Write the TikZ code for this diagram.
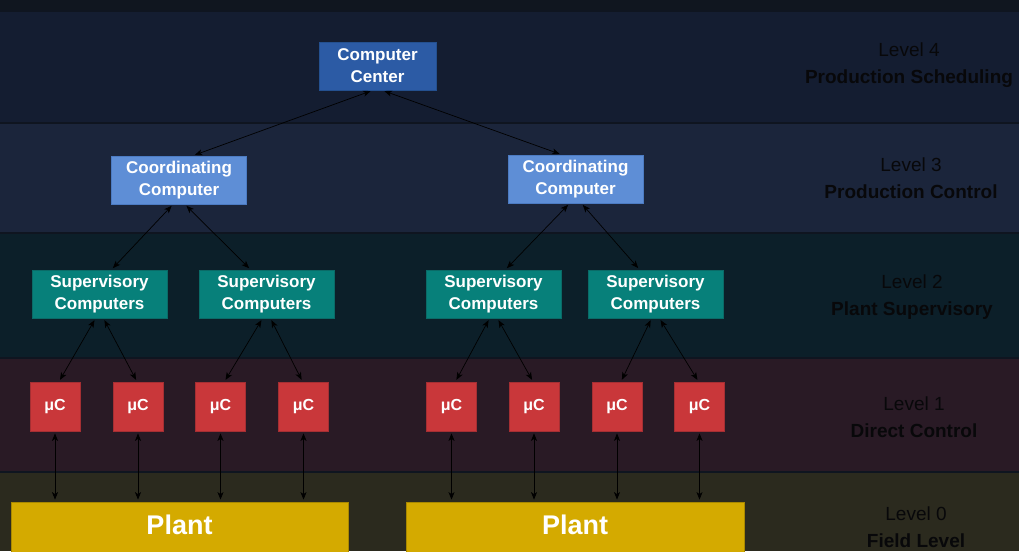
\documentclass[tikz,border=0pt]{standalone}
\usepackage{fontspec}
\setmainfont{Liberation Sans}
\usetikzlibrary{arrows.meta}

\definecolor{topstrip}{HTML}{10161F}
\definecolor{bandfour}{HTML}{141D31}
\definecolor{bandthree}{HTML}{1B253B}
\definecolor{bandtwo}{HTML}{0C1F29}
\definecolor{bandone}{HTML}{291A25}
\definecolor{bandzero}{HTML}{2B2A1E}
\definecolor{bandrule}{HTML}{0F1520}
\definecolor{ccfill}{HTML}{2C5BA5}
\definecolor{ccline}{HTML}{24508F}
\definecolor{coordfill}{HTML}{5E8ED6}
\definecolor{coordline}{HTML}{4C7BC2}
\definecolor{supfill}{HTML}{07807A}
\definecolor{supline}{HTML}{0A6B67}
\definecolor{mcfill}{HTML}{C9373A}
\definecolor{mcline}{HTML}{A52F33}
\definecolor{plantfill}{HTML}{D4AA00}
\definecolor{plantline}{HTML}{A98800}
\definecolor{leveltext}{HTML}{08080A}

\tikzset{
  box/.style={rectangle, line width=0.8pt, text=white, align=center,
    inner sep=0pt, font=\bfseries\fontsize{17}{22}\selectfont},
  ccbox/.style={box, fill=ccfill, draw=ccline, minimum width=117pt, minimum height=48pt},
  coordbox/.style={box, fill=coordfill, draw=coordline, minimum width=135pt, minimum height=48pt},
  supbox/.style={box, fill=supfill, draw=supline, minimum width=135pt, minimum height=48pt},
  mcbox/.style={box, fill=mcfill, draw=mcline, minimum width=50pt, minimum height=49pt,
    font=\bfseries\fontsize{16}{20}\selectfont},
  plantbox/.style={box, fill=plantfill, draw=plantline, minimum height=50pt,
    font=\bfseries\fontsize{27}{30}\selectfont},
  link/.style={black, line width=0.7pt,
    {Stealth[length=7.5pt,width=6pt,inset=2pt]}-{Stealth[length=7.5pt,width=6pt,inset=2pt]},
    shorten <=2pt, shorten >=2pt},
  lvl/.style={text=leveltext, align=center, inner sep=0pt,
    font=\fontsize{19}{27}\selectfont},
}

\begin{document}
\begin{tikzpicture}[x=1pt, y=-1pt]
  \useasboundingbox (0,0) rectangle (1019,551);

  % horizontal bands, one per level
  \fill[topstrip]   (0,0)   rectangle (1019,11);
  \fill[bandfour]   (0,11)  rectangle (1019,123);
  \fill[bandthree]  (0,123) rectangle (1019,233);
  \fill[bandtwo]    (0,233) rectangle (1019,358);
  \fill[bandone]    (0,358) rectangle (1019,472);
  \fill[bandzero]   (0,472) rectangle (1019,551);
  \foreach \yy in {11,123,233,358,472}
    \draw[bandrule, line width=1.5pt] (0,\yy) -- (1019,\yy);

  % level captions
  \node[lvl] (l4) at (909,65.5)  {Level 4\\\textbf{Production Scheduling}};
  \node[lvl] (l3) at (911,178.5) {Level 3\\\textbf{Production Control}};
  \node[lvl] (l2) at (912,297.5) {Level 2\\\textbf{Plant Supervisory}};
  \node[lvl] (l1) at (914,417.5) {Level 1\\\textbf{Direct Control}};
  \node[lvl] (l0) at (916,527.5) {Level 0\\\textbf{Field Level}};

  % level 4
  \node[ccbox] (cc) at (377.5,66) {Computer\\Center};

  % level 3
  \node[coordbox] (coA) at (179,180)   {Coordinating\\Computer};
  \node[coordbox] (coB) at (575.5,179) {Coordinating\\Computer};

  % level 2
  \node[supbox] (suA) at (99.5,294)  {Supervisory\\Computers};
  \node[supbox] (suB) at (266.5,294) {Supervisory\\Computers};
  \node[supbox] (suC) at (493.5,294) {Supervisory\\Computers};
  \node[supbox] (suD) at (655.5,294) {Supervisory\\Computers};

  % level 1
  \node[mcbox] (m1) at (55,406.5)    {μC};
  \node[mcbox] (m2) at (138,406.5)   {μC};
  \node[mcbox] (m3) at (220.5,406.5) {μC};
  \node[mcbox] (m4) at (303.5,406.5) {μC};
  \node[mcbox] (m5) at (451.5,406.5) {μC};
  \node[mcbox] (m6) at (534,406.5)   {μC};
  \node[mcbox] (m7) at (617,406.5)   {μC};
  \node[mcbox] (m8) at (699.5,406.5) {μC};

  % level 0
  \node[plantbox, minimum width=337pt] (pA) at (179.5,527) {\raisebox{4pt}{Plant}};
  \node[plantbox, minimum width=338pt] (pB) at (575,527)   {\raisebox{4pt}{Plant}};

  % computer center to coordinating computers
  \draw[link] ([xshift=-5pt]cc.south) -- ([xshift=14pt]coA.north);
  \draw[link] ([xshift=5pt]cc.south)  -- ([xshift=-14pt]coB.north);

  % coordinating computers to supervisory computers
  \draw[link] ([xshift=-6pt]coA.south) -- ([xshift=12pt]suA.north);
  \draw[link] ([xshift=6pt]coA.south)  -- ([xshift=-16pt]suB.north);
  \draw[link] ([xshift=-6pt]coB.south) -- ([xshift=12pt]suC.north);
  \draw[link] ([xshift=6pt]coB.south)  -- ([xshift=-16pt]suD.north);

  % supervisory computers to micro controllers
  \foreach \s/\a/\b in {suA/m1/m2, suB/m3/m4, suC/m5/m6, suD/m7/m8} {
    \draw[link] ([xshift=-4pt]\s.south) -- ([xshift=4pt]\a.north);
    \draw[link] ([xshift=4pt]\s.south)  -- ([xshift=-1pt]\b.north);
  }

  % micro controllers to the plants
  \foreach \m in {m1,m2,m3,m4}
    \draw[link] (\m.south) -- (\m.south |- pA.north);
  \foreach \m in {m5,m6,m7,m8}
    \draw[link] (\m.south) -- (\m.south |- pB.north);
\end{tikzpicture}
\end{document}
